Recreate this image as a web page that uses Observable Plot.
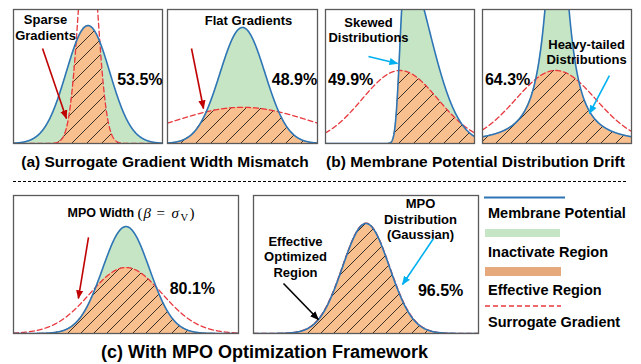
<!DOCTYPE html>
<html><head><meta charset="utf-8">
<script src="https://cdn.jsdelivr.net/npm/d3@7"></script>
<script src="https://cdn.jsdelivr.net/npm/@observablehq/plot@0.6"></script>
<style>
html,body{margin:0;padding:0;background:#fff;}
#root{position:relative;width:641px;height:364px;overflow:hidden;font-family:"Liberation Sans",Arial,sans-serif;}
.panel{position:absolute;}
.panel svg{display:block;overflow:visible;}
.cap{position:absolute;font-weight:bold;white-space:nowrap;color:#000;line-height:1;transform:translate(-50%,-50%);}
</style></head><body>
<svg width="0" height="0" style="position:absolute">
<defs>
<pattern id="hatch15" patternUnits="userSpaceOnUse" width="15" height="15">
<path d="M0,15L15,0M-3,3L3,-3M12,18L18,12" stroke="#000" stroke-width="0.75" fill="none"/>
</pattern>
<pattern id="hatch13" patternUnits="userSpaceOnUse" width="13" height="13">
<path d="M0,13L13,0M-3,3L3,-3M10,16L16,10" stroke="#000" stroke-width="0.75" fill="none"/>
</pattern>
<marker id="head-darkred" viewBox="0 0 10 10" refX="9" refY="5" markerWidth="9" markerHeight="9" markerUnits="userSpaceOnUse" orient="auto"><path d="M0,1L10,5L0,9z" fill="#c00000"/></marker>
<marker id="head-cyan" viewBox="0 0 10 10" refX="9" refY="5" markerWidth="9" markerHeight="9" markerUnits="userSpaceOnUse" orient="auto"><path d="M0,1L10,5L0,9z" fill="#00b0f0"/></marker>
<marker id="head-black" viewBox="0 0 10 10" refX="9" refY="5" markerWidth="9" markerHeight="9" markerUnits="userSpaceOnUse" orient="auto"><path d="M0,1L10,5L0,9z" fill="#000"/></marker>
</defs></svg>
<div id="root"></div>
<script>
// ---------------- data ----------------
// membrane potential distribution (blue curve) per panel, standardized x in [-3, 3], y as fraction of panel height
const membraneKind   = ["gauss", "gauss", "skew", "cauchy", "gauss", "gauss"];
const membraneCenter = [0, 0, -0.01, 0, 0, 0];
const membraneWidth  = [0.874, 0.90, 1.17, 0.48, 0.624, 0.624];
const membranePeak   = [0.88, 0.866, 1.42, 2.02, 0.775, 0.797];
const membraneSkew   = [0, 0, 8.2, 0, 0, 0];
// surrogate gradient (red dashed Gaussian) per panel
const surrogateCenter = [0, 0, 0, -0.05, 0, 0];
const surrogateWidth  = [0.375, 2.8, 1.53, 1.61, 0.96, 0.63];
const surrogatePeak   = [1.7, 0.27, 0.545, 0.545, 0.478, 0.80];
// effective-region percentages
const percentLabels = ["53.5%", "48.9%", "49.9%", "64.3%", "80.1%", "96.5%"];
const captions = ["(a) Surrogate Gradient Width Mismatch", "(b) Membrane Potential Distribution Drift", "(c) With MPO Optimization Framework"];
const legendLabels = ["Membrane Potential", "Inactivate Region", "Effective Region", "Surrogate Gradient"];

// ---------------- annotations (positions in panel data coordinates) ----------------
const notes = [
  [{x: -1.71, y: 0.87, t: "Sparse\nGradients"}],
  [{x: 0.24, y: 0.918, t: "Flat Gradients"}],
  [{x: -1.27, y: 0.851, t: "Skewed\nDistributions"}],
  [{x: 1.19, y: 0.687, t: "Heavy-tailed\nDistributions"}],
  [],
  [{x: 1.453, y: 0.833, t: "MPO\nDistribution\n(Gaussian)"}, {x: -1.88, y: 0.558, t: "Effective\nOptimized\nRegion"}]
];
const pctPos = [[2.09, 0.478], [2.08, 0.478], [-1.99, 0.478], [-1.99, 0.478], [1.77, 0.326], [1.99, 0.312]];
const arrows = [
  [{x1: -1.83, y1: 0.709, x2: -0.87, y2: 0.187, c: "#c00000"}],
  [{x1: -2.04, y1: 0.709, x2: -1.56, y2: 0.261, c: "#c00000"}],
  [{x1: -1.27, y1: 0.649, x2: -0.10, y2: 0.597, c: "#00b0f0"}],
  [{x1: 2.11, y1: 0.507, x2: 1.31, y2: 0.224, c: "#00b0f0"}],
  [{x1: -1.0, y1: 0.696, x2: -1.27, y2: 0.254, c: "#c00000"}],
  [{x1: 1.8, y1: 0.688, x2: 0.973, y2: 0.355, c: "#00b0f0"}, {x1: -2.2, y1: 0.362, x2: -1.27, y2: 0.101, c: "#000000"}]
];
const headFor = {"#c00000": "head-darkred", "#00b0f0": "head-cyan", "#000000": "head-black"};

// ---------------- layout ----------------
const panelLeft = [13, 167, 325, 482, 13, 253];
const panelTop  = [9, 9, 9, 9, 195, 195];
const panelW    = [149, 150, 149, 149, 225, 225];
const panelH    = [134, 134, 134, 134, 138, 138];

const C = {blue: "#2e75b6", green: "#c6e5c5", orange: "#f9c08f", red: "#e8383d", frame: "#5a5a5a"};
const SANS = "Liberation Sans, Arial, sans-serif";
const NARROW = "Liberation Sans Narrow, Arial Narrow, Liberation Sans, sans-serif";
const SERIF = "Liberation Serif, Times New Roman, serif";

function erf(x){const s=Math.sign(x);x=Math.abs(x);const t=1/(1+0.3275911*x);
  const y=1-(((((1.061405429*t-1.453152027)*t)+1.421413741)*t-0.284496736)*t+0.254829592)*t*Math.exp(-x*x);return s*y;}
const Phi = z => 0.5*(1+erf(z/Math.SQRT2));
function membrane(i, x){
  const z = (x - membraneCenter[i]) / membraneWidth[i], a = membranePeak[i];
  if (membraneKind[i] === "cauchy") return a / (1 + z*z);
  if (membraneKind[i] === "skew") return a * Math.exp(-0.5*z*z) * Phi(membraneSkew[i]*z);
  return a * Math.exp(-0.5*z*z);
}
function surrogate(i, x){
  const z = (x - surrogateCenter[i]) / surrogateWidth[i];
  return surrogatePeak[i] * Math.exp(-0.5*z*z);
}
const xs = d3.range(-3, 3.0001, 0.01);
const root = document.getElementById("root");

for (let i = 0; i < 6; i++) {
  const pts = xs.map(x => { const m = membrane(i, x), s = surrogate(i, x); return {x, m, s, e: Math.min(m, s)}; });
  const hatch = i < 4 ? "url(#hatch15)" : "url(#hatch13)";
  const marks = [
    Plot.areaY(pts, {x: "x", y: "m", fill: C.green, clip: true}),
    Plot.areaY(pts, {x: "x", y: "e", fill: C.orange, clip: true}),
    Plot.areaY(pts, {x: "x", y: "e", fill: hatch, clip: true}),
    Plot.lineY(pts, {x: "x", y: "s", stroke: C.red, strokeWidth: 1.3, strokeDasharray: "5,3", clip: true}),
    Plot.lineY(pts, {x: "x", y: "m", stroke: C.blue, strokeWidth: 1.6, clip: true}),
    Plot.frame({stroke: C.frame, strokeWidth: 1.3})
  ];
  for (const n of notes[i]) {
    marks.push(Plot.text([n], {x: "x", y: "y", text: "t", fontSize: 13, fontWeight: "bold", fontFamily: SANS, lineHeight: 1.2, fill: "#000"}));
  }
  marks.push(Plot.text([percentLabels[i]], {x: [pctPos[i][0]], y: [pctPos[i][1]], text: d => d, fontSize: 16, fontWeight: "bold", fontFamily: NARROW, fill: "#000"}));
  for (const a of arrows[i]) {
    marks.push(Plot.link([a], {x1: "x1", y1: "y1", x2: "x2", y2: "y2", stroke: a.c, strokeWidth: 1.6}));
  }
  if (i === 4) {
    // "MPO Width (β = σ_V)"
    const ax = [-1.56], ay = [0.87];
    marks.push(Plot.text(["MPO Width"], {x: ax, y: ay, text: d => d, textAnchor: "start", fontSize: 12.5, fontWeight: "bold", fontFamily: SANS}));
    const parts = [["(", 70, 15, "normal", 0], ["β", 76, 15, "italic", 0], ["=", 89, 15, "normal", 0], ["σ", 104, 15, "italic", 0], ["V", 113, 10.5, "normal", 4], [")", 122, 15, "normal", 0]];
    for (const [t, dx, fs, st, dy] of parts) {
      marks.push(Plot.text([t], {x: ax, y: ay, text: d => d, textAnchor: "start", dx, dy, fontSize: fs, fontStyle: st, fontFamily: SERIF}));
    }
  }
  const svg = Plot.plot({
    width: panelW[i] + 2, height: panelH[i] + 2, margin: 1,
    x: {domain: [-3, 3], axis: null},
    y: {domain: [0, 1], axis: null},
    marks
  });
  svg.querySelectorAll('g[aria-label="link"]').forEach(g => {
    const col = (g.getAttribute("stroke") || "").toLowerCase();
    g.querySelectorAll("path").forEach(p => {
      const c = (p.getAttribute("stroke") || col).toLowerCase();
      p.setAttribute("marker-end", `url(#${headFor[c] || "head-black"})`);
    });
  });
  const div = document.createElement("div");
  div.className = "panel";
  div.style.left = (panelLeft[i] - 1) + "px";
  div.style.top = (panelTop[i] - 1) + "px";
  div.appendChild(svg);
  root.appendChild(div);
}

// captions
const capPos = [[165, 162, 15.5], [475.5, 162, 15.5], [264.5, 352, 18]];
captions.forEach((c, k) => {
  const d = document.createElement("div");
  d.className = "cap";
  d.textContent = c;
  d.style.left = capPos[k][0] + "px";
  d.style.top = capPos[k][1] + "px";
  d.style.fontSize = capPos[k][2] + "px";
  root.appendChild(d);
});

// separator + legend
const ov = d3.select(root).append("svg").attr("width", 641).attr("height", 364)
  .style("position", "absolute").style("left", 0).style("top", 0).style("pointer-events", "none");
ov.append("line").attr("x1", 13).attr("x2", 626).attr("y1", 181.5).attr("y2", 181.5)
  .attr("stroke", "#000").attr("stroke-width", 1).attr("stroke-dasharray", "3,2");
const lg = ov.append("g");
lg.append("line").attr("x1", 484).attr("x2", 565).attr("y1", 197.5).attr("y2", 197.5).attr("stroke", C.blue).attr("stroke-width", 2);
lg.append("rect").attr("x", 485).attr("y", 229).attr("width", 75).attr("height", 8).attr("fill", C.green);
lg.append("rect").attr("x", 485).attr("y", 267).attr("width", 76).attr("height", 9).attr("fill", "#e5a97c");
lg.append("line").attr("x1", 485).attr("x2", 561).attr("y1", 306).attr("y2", 306).attr("stroke", C.red).attr("stroke-width", 1.5).attr("stroke-dasharray", "5,3");
const ly = [213, 252, 290, 322];
legendLabels.forEach((t, k) => {
  lg.append("text").attr("x", 488).attr("y", ly[k]).attr("dy", "0.35em").attr("font-family", SANS)
    .attr("font-weight", "bold").attr("font-size", 14.5).attr("fill", "#000").text(t);
});
</script>
</body></html>
